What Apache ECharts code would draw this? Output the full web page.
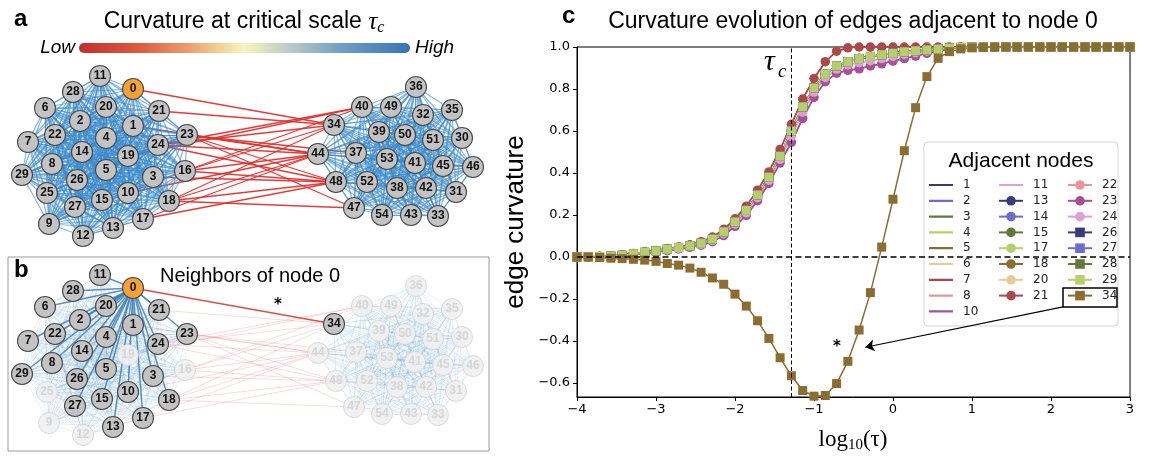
<!DOCTYPE html>
<html><head><meta charset="utf-8">
<script src="https://cdn.jsdelivr.net/npm/echarts@6/dist/echarts.min.js"></script>
<style>html,body{margin:0;padding:0;background:#fff}#chart{width:1149px;height:456px}</style>
</head><body><div id="chart"></div>
<script>
// ================= DATA =================
// network layout (layout units) for nodes 0..54
const nodeLayoutX = [133,133,80,153,106,106,45,28,52,49,128,100,83,113,82,102,185,143,169,128,106,159,55,187,158,47,77,75,73,22,
  462,456,423,438,334,452,416,356,397,379,362,415,426,411,318,443,473,354,336,391,405,433,367,387,382];
const nodeLayoutY = [89,126,121,177,138,170,108,142,164,224,193,76,236,228,152,200,171,219,201,156,107,111,135,135,145,193,180,207,92,175,
  138,192,115,216,125,110,87,153,188,132,107,163,188,215,154,166,167,208,182,107,135,140,182,159,215];
const communityLeft = [0,1,2,3,4,5,6,7,8,9,10,11,12,13,14,15,16,17,18,19,20,21,22,23,24,25,26,27,28,29];
const communityRight = [30,31,32,33,34,35,36,37,38,39,40,41,42,43,44,45,46,47,48,49,50,51,52,53,54];
const neighborsOf0 = [1,2,3,4,5,6,7,8,10,11,13,14,15,17,18,20,21,22,23,24,26,27,28,29,34];
const interEdges = [[0,34],[21,34],[24,34],[16,34],[18,34],[16,40],[24,40],[19,40],[23,44],[24,44],[16,44],[17,44],[10,44],[1,44],[18,44],
  [23,48],[24,48],[16,48],[18,48],[3,48],[17,48],[23,47],[18,47],[23,37]];

// panel c: log10(tau) sampling
const logTau = [-4.000,-3.857,-3.714,-3.571,-3.429,-3.286,-3.143,-3.000,-2.857,-2.714,-2.571,-2.429,-2.286,-2.143,-2.000,-1.857,-1.714,-1.571,-1.429,-1.286,
  -1.143,-1.000,-0.857,-0.714,-0.571,-0.429,-0.286,-0.143,0.000,0.143,0.286,0.429,0.571,0.714,0.857,1.000,1.143,1.286,1.429,1.571,
  1.714,1.857,2.000,2.143,2.286,2.429,2.571,2.714,2.857,3.000];
const curveFast = [0,0.001,0.002,0.005,0.009,0.016,0.024,0.031,0.040,0.048,0.058,0.072,0.095,0.132,0.182,0.242,0.318,0.405,0.512,0.632,
  0.752,0.850,0.930,0.980,0.996,1,1,1,1,1,1,1,1,1,1,1,1,1,1,1,1,1,1,1,1,1,1,1,1,1];
const curveMid = [0,0.001,0.002,0.004,0.008,0.015,0.022,0.029,0.037,0.045,0.053,0.065,0.085,0.120,0.167,0.222,0.295,0.380,0.480,0.600,
  0.715,0.805,0.870,0.910,0.930,0.945,0.955,0.963,0.970,0.977,0.982,0.986,0.990,0.995,0.998,1,1,1,1,1,1,1,1,1,1,1,1,1,1,1];
const curveLow = [0,0.001,0.002,0.004,0.007,0.013,0.020,0.026,0.034,0.042,0.050,0.061,0.079,0.111,0.157,0.210,0.282,0.365,0.465,0.575,
  0.690,0.785,0.855,0.895,0.915,0.925,0.935,0.945,0.955,0.965,0.973,0.980,0.987,0.993,0.998,1,1,1,1,1,1,1,1,1,1,1,1,1,1,1];
const curveSlow = [0,0.001,0.002,0.003,0.006,0.011,0.017,0.023,0.030,0.038,0.046,0.056,0.073,0.102,0.146,0.198,0.268,0.350,0.448,0.546,
  0.660,0.760,0.835,0.875,0.889,0.896,0.910,0.920,0.933,0.945,0.957,0.970,0.981,0.990,0.997,1,1,1,1,1,1,1,1,1,1,1,1,1,1,1];
const curve34 = [0,0,-0.003,-0.006,-0.008,-0.011,-0.015,-0.021,-0.031,-0.039,-0.053,-0.073,-0.100,-0.130,-0.177,-0.234,-0.304,-0.388,-0.480,-0.566,
  -0.636,-0.663,-0.660,-0.603,-0.497,-0.348,-0.170,0.047,0.275,0.506,0.711,0.859,0.946,0.978,0.991,0.996,0.998,0.999,1,1,1,1,1,1,1,1,1,1,1,1];
const adjacentNodes = [1,2,3,4,5,6,7,8,10,11,13,14,15,17,18,20,21,22,23,24,26,27,28,29,34];
const curveOfNode = {1:curveMid,2:curveMid,3:curveMid,4:curveMid,5:curveMid,6:curveMid,7:curveFast,8:curveMid,10:curveSlow,11:curveLow,
  13:curveMid,14:curveMid,15:curveMid,17:curveMid,18:curveMid,20:curveMid,21:curveFast,22:curveMid,23:curveSlow,24:curveLow,
  26:curveMid,27:curveMid,28:curveMid,29:curveMid,34:curve34};
const legendColumns = [[1,2,3,4,5,6,7,8,10],[11,13,14,15,17,18,20,21],[22,23,24,26,27,28,29,34]];
const tauC = -1.286;
const xTickValues = [-4,-3,-2,-1,0,1,2,3];
const xTickLabels = ['\u22124','\u22123','\u22122','\u22121','0','1','2','3'];
const yTickValues = [-0.6,-0.4,-0.2,0,0.2,0.4,0.6,0.8,1.0];
const yTickLabels = ['\u22120.6','\u22120.4','\u22120.2','0.0','0.2','0.4','0.6','0.8','1.0'];

// ================= STYLE =================
const palette10 = ['#393b79','#6b6ecf','#637939','#b5cf6b','#8c6d31','#e7cb94','#ad494a','#e7969c','#a55194','#de9ed6'];
const SANS = 'Liberation Sans', DJ = 'DejaVu Sans', SERIF = 'Liberation Serif';
const LINE_ICON = 'path://M0,0L0.01,0L0,0.01Z M0,10L0.01,10L0,9.99Z M0,3.9L24,3.9L24,6.1L0,6.1Z';

// ---- network links ----
function intraEdges() {
  const out = [];
  [communityLeft, communityRight].forEach(c => {
    for (let a = 0; a < c.length; a++) for (let b = a + 1; b < c.length; b++) {
      const u = c[a], v = c[b];
      if (u === 0 && neighborsOf0.indexOf(v) < 0) continue;
      out.push([u, v]);
    }
  });
  return out;
}
const intra = intraEdges();

function nodeData(fadedFn) {
  return nodeLayoutX.map((x, i) => {
    const faded = fadedFn(i);
    const isZero = i === 0;
    return {
      name: String(i), value: [x, nodeLayoutY[i]],
      itemStyle: faded ? {color:'rgba(240,240,240,0.92)', borderColor:'rgba(205,205,205,0.7)', borderWidth:1}
        : {color: isZero ? '#f4a236' : '#c3c3c3', borderColor:'#4a4a4a', borderWidth:1.1},
      label: {color: faded ? '#d6d6d6' : '#111'}
    };
  });
}

const linksA = [];
interEdges.forEach(e => linksA.push({source:String(e[0]), target:String(e[1]), lineStyle:{color:'#e3322e', width:1.3, opacity:0.95}}));
intra.forEach(e => linksA.push({source:String(e[0]), target:String(e[1]), lineStyle:{color:'#3a8ace', width:1.2, opacity:0.62}}));

const linksB = [];
intra.forEach(e => { if (e[0] !== 0) linksB.push({source:String(e[0]), target:String(e[1]), lineStyle:{color:'#5a9bd2', width:1, opacity:0.15}}); });
interEdges.forEach(e => { if (e[0] !== 0) linksB.push({source:String(e[0]), target:String(e[1]), lineStyle:{color:'#e56060', width:1, opacity:0.22}}); });
intra.forEach(e => { if (e[0] === 0) linksB.push({source:String(e[0]), target:String(e[1]), lineStyle:{color:'#3c7fba', width:1.5, opacity:0.85}}); });
interEdges.forEach(e => { if (e[0] === 0) linksB.push({source:String(e[0]), target:String(e[1]), lineStyle:{color:'#d9473e', width:1.7, opacity:0.95}}); });

const graphCommon = {
  type:'graph', coordinateSystem:'cartesian2d', symbol:'circle', symbolSize:21, silent:true, animation:false,
  label:{show:true, position:'inside', formatter:'{b}', fontFamily:SANS, fontWeight:'bold', fontSize:12},
  emphasis:{disabled:true}, z:2
};

const lineSeries = adjacentNodes.map((n, k) => {
  const color = palette10[k % 10];
  const sym = k < 10 ? 'none' : (k < 20 ? 'circle' : 'rect');
  const vals = curveOfNode[n];
  const s = {
    type:'line', name:String(n), xAxisIndex:2, yAxisIndex:2,
    data: logTau.map((x, i) => [x, vals[i]]),
    symbol: sym, symbolSize: sym === 'rect' ? 9 : 9.5, showSymbol: sym !== 'none',
    itemStyle:{color:color, opacity:1}, lineStyle:{color:color, width:1.5},
    emphasis:{disabled:true}, silent:true, animation:false, z:2
  };
  if (n === 34) {
    s.markLine = {
      silent:true, animation:false, symbol:['none','none'], symbolSize:9, label:{show:false},
      emphasis:{disabled:true},
      data:[
        {yAxis:0, lineStyle:{color:'#000', width:1.5, type:[6,3.5]}},
        {xAxis:tauC, lineStyle:{color:'#000', width:1, type:[4,2.5]}},
        [{coord:[2.152,-0.238], symbol:'none', lineStyle:{color:'#000', width:1.2, type:'solid'}}, {coord:[-0.35,-0.43], symbol:'arrow'}]
      ]
    };
  }
  return s;
});
const lineOnly = {};
adjacentNodes.forEach((n, k) => { lineOnly[n] = k < 10; });

const option = {
  backgroundColor:'#fff',
  animation:false,
  grid:[
    {left:8, top:58, width:481, height:194, show:false},
    {left:8, top:257, width:481, height:194, show:true, borderColor:'#9a9a9a', borderWidth:1, backgroundColor:'#fff'},
    {left:577, top:47, width:553, height:350, show:true, borderColor:'#000', borderWidth:1}
  ],
  xAxis:[
    {type:'value', gridIndex:0, min:8, max:489, show:false},
    {type:'value', gridIndex:1, min:8, max:489, show:false},
    {type:'value', gridIndex:2, min:-4, max:3, interval:1,
      axisLine:{show:true, onZero:false, lineStyle:{color:'#000', width:1}},
      axisTick:{show:true, inside:false, length:4, lineStyle:{color:'#000'}},
      splitLine:{show:false},
      axisLabel:{fontFamily:DJ, fontSize:13, color:'#000', margin:6,
        formatter:v => { const i = xTickValues.indexOf(Math.round(v)); return i >= 0 ? xTickLabels[i] : ''; }}}
  ],
  yAxis:[
    {type:'value', gridIndex:0, min:58, max:252, inverse:true, show:false},
    {type:'value', gridIndex:1, min:58, max:252, inverse:true, show:false},
    {type:'value', gridIndex:2, min:-0.667, max:1.0,
      axisLine:{show:true, onZero:false, lineStyle:{color:'#000', width:1}},
      axisTick:{show:true, inside:false, length:4, lineStyle:{color:'#000'}, customValues:yTickValues},
      splitLine:{show:false},
      axisLabel:{fontFamily:DJ, fontSize:13, color:'#000', margin:7, customValues:yTickValues,
        formatter:v => { for (let i = 0; i < yTickValues.length; i++) if (Math.abs(yTickValues[i]-v) < 1e-6) return yTickLabels[i]; return ''; }}}
  ],
  legend: legendColumns.map((col, k) => ({
    data: col.map(n => lineOnly[n] ? {name:String(n), icon:LINE_ICON, itemStyle:{borderWidth:0}} : {name:String(n)}),
    orient:'vertical', left:[929, 998, 1067][k], top:179,
    itemWidth:24, itemHeight:12, itemGap:3.8, selectedMode:false, padding:0,
    textStyle:{fontFamily:DJ, fontSize:12, color:'#222', lineHeight:11.5, padding:[0,0,0,5]},
    z:6
  })),
  series:[
    Object.assign({}, graphCommon, {xAxisIndex:0, yAxisIndex:0, data:nodeData(() => false), links:linksA}),
    Object.assign({}, graphCommon, {xAxisIndex:1, yAxisIndex:1,
      data:nodeData(i => !(i === 0 || neighborsOf0.indexOf(i) >= 0)), links:linksB}),
    ...lineSeries
  ],
  graphic:[
    // panel a
    {type:'text', x:14, y:19, style:{text:'a', font:'bold 24px "Liberation Sans"', fill:'#000', verticalAlign:'middle'}},
    {type:'text', x:244, y:22, style:{text:'{t|Curvature at critical scale }{g|\u03c4}{s|c}', align:'center', verticalAlign:'middle',
      rich:{t:{fontFamily:SANS, fontSize:23, fill:'#000', lineHeight:28, verticalAlign:'middle'},
            g:{fontFamily:SERIF, fontStyle:'italic', fontSize:25, fill:'#000', lineHeight:28, verticalAlign:'middle'},
            s:{fontFamily:SERIF, fontStyle:'italic', fontSize:16, fill:'#000', lineHeight:16, verticalAlign:'bottom'}}}},
    {type:'rect', shape:{x:79, y:43, width:331, height:10, r:5},
      style:{fill:{type:'linear', x:0, y:0, x2:1, y2:0, colorStops:[
        {offset:0, color:'#c42f2b'},{offset:0.18, color:'#d95a40'},{offset:0.35, color:'#eda877'},{offset:0.5, color:'#f6f6bc'},
        {offset:0.65, color:'#b3c8c6'},{offset:0.8, color:'#6c9cc6'},{offset:1, color:'#3a72b6'}]}}},
    {type:'text', x:75, y:48, style:{text:'Low', font:'italic 19px "Liberation Sans"', fill:'#000', align:'right', verticalAlign:'middle'}},
    {type:'text', x:415, y:48, style:{text:'High', font:'italic 19px "Liberation Sans"', fill:'#000', align:'left', verticalAlign:'middle'}},
    // panel b
    {type:'text', x:14, y:270, z:10, style:{text:'b', font:'bold 24px "Liberation Sans"', fill:'#000', verticalAlign:'middle'}},
    {type:'text', x:160, y:276, z:10, style:{text:'Neighbors of node 0', font:'20px "Liberation Sans"', fill:'#000', verticalAlign:'middle'}},
    {type:'text', x:278, y:305, z:10, style:{text:'*', font:'bold 15px "DejaVu Sans"', fill:'#000', align:'center', verticalAlign:'middle'}},
    // panel c
    {type:'text', x:562, y:16, style:{text:'c', font:'bold 24px "Liberation Sans"', fill:'#000', verticalAlign:'middle'}},
    {type:'text', x:853, y:22, style:{text:'Curvature evolution of edges adjacent to node 0', font:'23px "Liberation Sans"', fill:'#000', align:'center', verticalAlign:'middle'}},
    {type:'text', x:516, y:222, rotation:Math.PI/2, style:{text:'edge curvature', font:'26px "Liberation Sans"', fill:'#000', align:'center', verticalAlign:'middle'}},
    {type:'text', x:853, y:440, style:{text:'{t|log}{s|10}{t|(\u03c4)}', align:'center', verticalAlign:'middle',
      rich:{t:{fontFamily:SERIF, fontSize:23, fill:'#000', lineHeight:26, verticalAlign:'middle'},
            s:{fontFamily:SERIF, fontSize:15, fill:'#000', lineHeight:15, verticalAlign:'bottom'}}}},
    {type:'text', x:764, y:62, z:10, style:{text:'\u03c4', font:'italic 30px "Liberation Serif"', fill:'#000', verticalAlign:'middle'}},
    {type:'text', x:778, y:72, z:10, style:{text:'c', font:'italic 19px "Liberation Serif"', fill:'#000', verticalAlign:'middle'}},
    {type:'text', x:837, y:347, z:10, style:{text:'*', font:'bold 15px "DejaVu Sans"', fill:'#000', align:'center', verticalAlign:'middle'}},
    // legend frame + title
    {type:'rect', z:3, shape:{x:924, y:142, width:194, height:184, r:4}, style:{fill:'rgba(255,255,255,0.8)', stroke:'#d5d5d5', lineWidth:1}},
    {type:'text', x:1021, y:161, z:7, style:{text:'Adjacent nodes', font:'21px "Liberation Sans"', fill:'#000', align:'center', verticalAlign:'middle'}},
    {type:'rect', z:7, shape:{x:1063, y:288, width:54, height:19}, style:{fill:'none', stroke:'#000', lineWidth:1.5}}
  ]
};
const chart = echarts.init(document.getElementById('chart'));
chart.setOption(option);
</script></body></html>
